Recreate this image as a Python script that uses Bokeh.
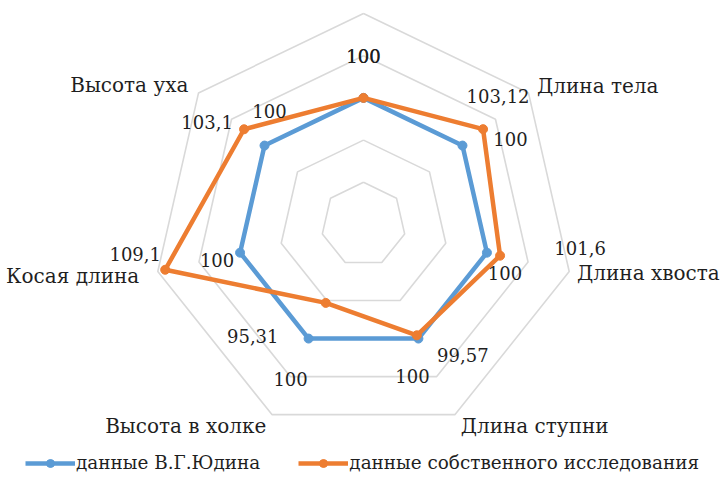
import numpy as np
from bokeh.plotting import figure
from bokeh.models import Range1d, Legend, LegendItem
from bokeh.embed import file_html
from bokeh.resources import INLINE
from bokeh.core.properties import value

# --- data -------------------------------------------------------------
categories = ["", "Длина тела", "Длина хвоста", "Длина ступни",
              "Высота в холке", "Косая длина", "Высота уха"]
yudin = [100, 100, 100, 100, 100, 100, 100]
own = [100, 103.12, 101.6, 99.57, 95.31, 109.1, 103.1]
ring_values = [90, 95, 100, 105, 110]
r_min, r_max = 85, 110

series_names = ["данные В.Г.Юдина", "данные собственного исследования"]

# --- styling ------------------------------------------------------------
W, H = 726, 481
CX, CY = 363, 224          # web centre on the page (px)
R = 211                    # radius of the outer ring (px)
BLUE, ORANGE, GRID = "#5B9BD5", "#ED7D31", "#D9D9D9"
FONT_NAME = "DejaVu Serif"
FONT = value(FONT_NAME)
CAT_SIZE = "20px"
VAL_SIZE = "18px"
LEG_SIZE = "18.4px"
TXT = "#1f1f1f"

# label offsets in px (right, down) relative to each point
own_off = [(0, -42), (15, -33), (80, -8), (46, 20), (-73, 33), (-30, -16), (-37, -7)]
yud_off = [(0, -42), (48, -7), (18, 20), (-6, 37), (-18, 40), (-23, 7), (5, -35)]
# gap between the outer ring and each category name (px)
cat_pad = [0, 11, 8, 13, 13, 19, 13]


def polar(vals):
    n = len(vals)
    ang = np.arange(n) * 2 * np.pi / n
    r = (np.asarray(vals, dtype=float) - r_min) / (r_max - r_min) * R
    return r * np.sin(ang), r * np.cos(ang)


def closed(a):
    return list(a) + [a[0]]


def fmt(v):
    return f"{v:g}".replace(".", ",")


p = figure(width=W, height=H, output_backend="svg", toolbar_location=None,
           x_range=Range1d(-CX, W - CX), y_range=Range1d(-(H - CY), CY),
           min_border=0, outline_line_color=None, background_fill_color="white")
p.axis.visible = False
p.grid.visible = False

n = len(categories)

# concentric rings
for rv in ring_values:
    gx, gy = polar([rv] * n)
    p.line(closed(gx), closed(gy), line_color=GRID, line_width=1.6)

# series
renderers = []
for vals, col in ((yudin, BLUE), (own, ORANGE)):
    sx, sy = polar(vals)
    ln = p.line(closed(sx), closed(sy), line_color=col, line_width=4.5,
                line_join="round")
    sc = p.scatter(sx, sy, marker="circle", size=9, fill_color=col, line_color=col)
    renderers.append([ln, sc])

# data labels
for vals, offs in ((yudin, yud_off), (own, own_off)):
    sx, sy = polar(vals)
    lx = [x + o[0] for x, o in zip(sx, offs)]
    ly = [y - o[1] for y, o in zip(sy, offs)]
    p.text(lx, ly, text=[fmt(v) for v in vals], text_font=FONT,
           text_font_size=VAL_SIZE, text_color=TXT, text_align="center",
           text_baseline="middle")

# category labels just outside the outer ring
ang = np.arange(n) * 2 * np.pi / n
for k in range(n):
    if not categories[k]:
        continue
    s, c = np.sin(ang[k]), np.cos(ang[k])
    x = (R + cat_pad[k]) * s
    y = (R + cat_pad[k]) * c
    align = "left" if s > 0.01 else ("right" if s < -0.01 else "center")
    p.text([x], [y], text=[categories[k]], text_font=FONT, text_font_size=CAT_SIZE,
           text_color=TXT, text_align=align, text_baseline="middle")

legend = Legend(items=[LegendItem(label=series_names[i], renderers=renderers[i])
                       for i in range(2)],
                orientation="horizontal", location=(25, 8),
                glyph_width=50, glyph_height=20, label_standoff=1, spacing=38,
                padding=0, margin=0, border_line_color=None,
                background_fill_alpha=0, label_text_font=FONT_NAME,
                label_text_font_size=LEG_SIZE, label_text_color=TXT)
p.add_layout(legend, "center")

open("out.html", "w").write(file_html(p, INLINE))
